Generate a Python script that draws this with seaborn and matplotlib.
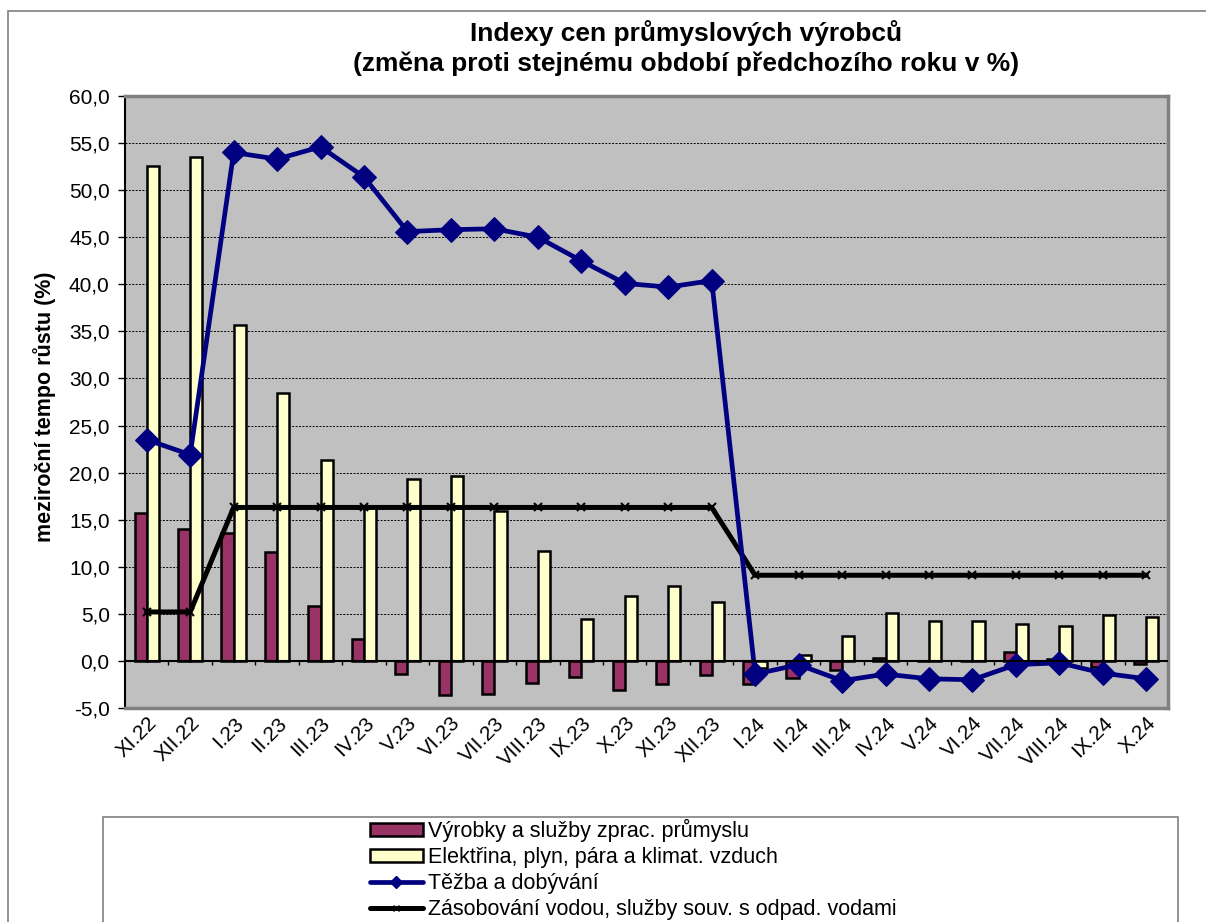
import numpy as np
import pandas as pd
import matplotlib
matplotlib.use("Agg")
import matplotlib.pyplot as plt
from matplotlib.patches import Rectangle, Patch
from matplotlib.lines import Line2D
from matplotlib.ticker import FuncFormatter
import seaborn as sns

months = ["XI.22", "XII.22", "I.23", "II.23", "III.23", "IV.23", "V.23", "VI.23",
          "VII.23", "VIII.23", "IX.23", "X.23", "XI.23", "XII.23", "I.24", "II.24",
          "III.24", "IV.24", "V.24", "VI.24", "VII.24", "VIII.24", "IX.24", "X.24"]

# Výrobky a služby zprac. průmyslu
vyrobky = [15.7, 14.0, 13.6, 11.6, 5.8, 2.3, -1.4, -3.6, -3.5, -2.3, -1.7, -3.1,
           -2.5, -1.5, -2.5, -1.8, -1.0, 0.3, 0.0, 0.0, 1.0, 0.2, -0.6, -0.3]
# Elektřina, plyn, pára a klimat. vzduch
elektrina = [52.6, 53.5, 35.7, 28.5, 21.3, 16.4, 19.3, 19.6, 15.9, 11.7, 4.4, 6.9,
             8.0, 6.3, -0.7, 0.6, 2.6, 5.1, 4.2, 4.2, 3.9, 3.7, 4.9, 4.7]
# Těžba a dobývání
tezba = [23.5, 21.9, 54.0, 53.3, 54.6, 51.4, 45.6, 45.8, 45.9, 45.0, 42.5, 40.1,
         39.7, 40.4, -1.4, -0.4, -2.1, -1.4, -1.9, -2.0, -0.4, -0.2, -1.3, -1.9]
# Zásobování vodou, služby souv. s odpad. vodami
voda = [5.2, 5.2, 16.3, 16.3, 16.3, 16.3, 16.3, 16.3, 16.3, 16.3, 16.3, 16.3,
        16.3, 16.3, 9.1, 9.1, 9.1, 9.1, 9.1, 9.1, 9.1, 9.1, 9.1, 9.1]

labels = ["Výrobky a služby zprac. průmyslu",
          "Elektřina, plyn, pára a klimat. vzduch",
          "Těžba a dobývání",
          "Zásobování vodou, služby souv. s odpad. vodami"]
colors = ["#993366", "#FFFFCC", "#000080", "#000000"]

sns.set_style("white")
plt.rcParams['font.family'] = ['Liberation Sans', 'DejaVu Sans']
plt.rcParams['text.color'] = 'black'
plt.rcParams['axes.labelcolor'] = 'black'
plt.rcParams['xtick.color'] = 'black'
plt.rcParams['ytick.color'] = 'black'

fig = plt.figure(figsize=(12.06, 9.22), dpi=100)

# outer chart frame
fig.patches.append(Rectangle((8 / 1206, -0.1), 1.2, (922 - 11) / 922 + 0.1,
                             transform=fig.transFigure, fill=False,
                             edgecolor="#808080", linewidth=1.2, zorder=0))

ax = fig.add_axes([125 / 1206, (922 - 708) / 922, 1043 / 1206, 612 / 922])
ax.set_facecolor("#C0C0C0")

bars = pd.DataFrame({
    "month": months * 2,
    "value": vyrobky + elektrina,
    "series": [labels[0]] * len(months) + [labels[1]] * len(months),
})
sns.barplot(data=bars, x="month", y="value", hue="series", order=months,
            hue_order=labels[:2], palette=colors[:2], width=0.56,
            edgecolor="black", linewidth=1.8, saturation=1, ax=ax,
            legend=False, zorder=3)

x = np.arange(len(months))
sns.lineplot(x=x, y=tezba, color=colors[2], linewidth=3.4, marker="D",
             markersize=12, markeredgecolor=colors[2], ax=ax, zorder=5)
sns.lineplot(x=x, y=voda, color=colors[3], linewidth=3.6, marker="x",
             markersize=6, markeredgewidth=1.5, markeredgecolor="black",
             ax=ax, zorder=4)

ax.set_xlim(-0.5, len(months) - 0.5)
ax.set_ylim(-5, 60)
ax.set_yticks(np.arange(-5, 61, 5))
ax.yaxis.set_major_formatter(FuncFormatter(lambda v, p: f"{v:.1f}".replace(".", ",")))
ax.tick_params(axis="y", labelsize=15, length=5, width=1, direction="out",
               left=True, pad=6)
ax.tick_params(axis="x", length=0, pad=4)
for yv in np.arange(5, 60, 5):
    ax.axhline(yv, color="black", linestyle=(0, (2, 1.5)), linewidth=0.7, zorder=1)
ax.axhline(0, color="black", linewidth=1.5, zorder=6)
# small ticks on the zero line between categories
ax.vlines(np.arange(0.5, len(months) - 0.5, 1), -0.45, 0, color="black",
          linewidth=1, zorder=6)

ax.set_xticks(x)
ax.set_xticklabels(months, rotation=45, ha="right", va="top",
                   rotation_mode="anchor", fontsize=15)
ax.set_xlabel("")
ax.set_ylabel("meziroční tempo růstu (%)", fontsize=15.5, fontweight="bold")
ax.yaxis.set_label_coords((56 - 125) / 1043, (708 - 407) / 612)

for side in ["top", "right", "bottom"]:
    ax.spines[side].set_color("#808080")
    ax.spines[side].set_linewidth(2.5)
ax.spines["left"].set_color("black")
ax.spines["left"].set_linewidth(1.5)

fig.text(686 / 1206, (922 - 33) / 922, "Indexy cen průmyslových výrobců",
         ha="center", va="center", fontsize=19, fontweight="bold")
fig.text(686 / 1206, (922 - 64) / 922, "(změna proti stejnému období předchozího roku v %)",
         ha="center", va="center", fontsize=19, fontweight="bold")

# legend box
fig.patches.append(Rectangle((103 / 1206, -0.1), (1178 - 103) / 1206,
                             (922 - 817) / 922 + 0.1, transform=fig.transFigure,
                             facecolor="white", edgecolor="#808080",
                             linewidth=1.2, zorder=1))
handles = [
    Patch(facecolor=colors[0], edgecolor="black", linewidth=1.8),
    Patch(facecolor=colors[1], edgecolor="black", linewidth=1.8),
    Line2D([], [], color=colors[2], linewidth=3.4, marker="D", markersize=6),
    Line2D([], [], color=colors[3], linewidth=3.6, marker="x", markersize=5),
]
fig.legend(handles, labels, loc="upper left",
           bbox_to_anchor=(370 / 1206, (922 - 819) / 922), frameon=False,
           fontsize=15.5, handlelength=2.45, handleheight=0.55, handletextpad=0.25,
           labelspacing=0.23, borderpad=0, borderaxespad=0)

fig.savefig("out.png", dpi=100)
